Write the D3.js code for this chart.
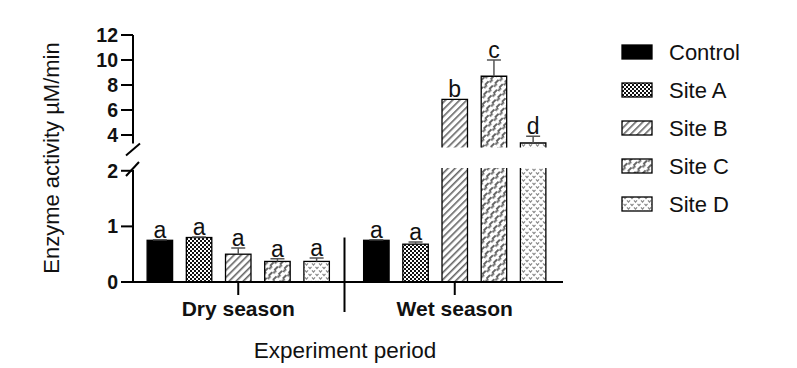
<!DOCTYPE html>
<html><head><meta charset="utf-8">
<script src="https://cdn.jsdelivr.net/npm/d3@7"></script>
<style>body{margin:0;background:#fff}svg{display:block}text{font-family:"Liberation Sans",Arial,sans-serif;fill:#111}</style>
</head><body><svg id="c" width="797" height="368"></svg>
<script>
const groups = ["Dry season", "Wet season"];
const series = ["Control", "Site A", "Site B", "Site C", "Site D"];
const dryValues = [0.75, 0.80, 0.50, 0.37, 0.37];
const dryErrors = [0.01, 0.01, 0.11, 0.05, 0.06];
const dryLetters = ["a", "a", "a", "a", "a"];
const wetValues = [0.75, 0.68, 6.85, 8.7, 3.36];
const wetErrors = [0.01, 0.04, 0.0, 1.3, 0.55];
const wetLetters = ["a", "a", "b", "c", "d"];
const lowerTicks = [0, 1, 2];
const upperTicks = [4, 6, 8, 10, 12];

const svg = d3.select("#c");
const defs = svg.append("defs");
// patterns
const pA = defs.append("pattern").attr("id","pA").attr("patternUnits","userSpaceOnUse").attr("width",4).attr("height",4);
pA.append("rect").attr("width",4).attr("height",4).attr("fill","#fff");
pA.append("rect").attr("width",2).attr("height",2).attr("fill","#111");
pA.append("rect").attr("x",2).attr("y",2).attr("width",2).attr("height",2).attr("fill","#111");
const pB = defs.append("pattern").attr("id","pB").attr("patternUnits","userSpaceOnUse").attr("width",5).attr("height",5).attr("patternTransform","rotate(45)");
pB.append("rect").attr("width",5).attr("height",5).attr("fill","#fff");
pB.append("rect").attr("width",1.6).attr("height",5).attr("fill","#666");
const pC = defs.append("pattern").attr("id","pC").attr("patternUnits","userSpaceOnUse").attr("width",6).attr("height",8).attr("patternTransform","rotate(45)");
pC.append("rect").attr("width",6).attr("height",8).attr("fill","#fff");
pC.append("rect").attr("width",2).attr("height",5).attr("fill","#666");
pC.append("rect").attr("x",1.5).attr("y",4).attr("width",2).attr("height",4).attr("fill","#666");
const pD = defs.append("pattern").attr("id","pD").attr("patternUnits","userSpaceOnUse").attr("width",7).attr("height",7);
pD.append("rect").attr("width",7).attr("height",7).attr("fill","#fff");
pD.append("path").attr("d","M0.5,0.8 L2,2.6 L3.5,0.8 M4,4.3 L5.5,6.1 L7,4.3 M-3,4.3 L-1.5,6.1 L0,4.3").attr("stroke","#888").attr("stroke-width",1.2).attr("fill","none");
const fills = ["#000", "url(#pA)", "url(#pB)", "url(#pC)", "url(#pD)"];

// scales
const yLow = d3.scaleLinear().domain([0, 2.05]).range([282, 168]);
const yUp = d3.scaleLinear().domain([3, 12]).range([147.5, 35]);
const x0 = d3.scaleBand().domain(groups).range([130, 563]);
const x1 = d3.scaleBand().domain(series).range([0, 194]).paddingInner(0.35).paddingOuter(0.15);
const axisX = 133;

const data = [];
groups.forEach((g, gi) => {
  const vals = gi === 0 ? dryValues : wetValues;
  const errs = gi === 0 ? dryErrors : wetErrors;
  const lets = gi === 0 ? dryLetters : wetLetters;
  series.forEach((s, si) => data.push({g, s, si, v: vals[si], e: errs[si], l: lets[si]}));
});
const yv = v => v <= 2.05 ? yLow(v) : yUp(v);
const bx = d => x0(d.g) + (x0.bandwidth() - 194) / 2 + x1(d.s);

const gBars = svg.append("g");
data.forEach(d => {
  const x = bx(d), w = x1.bandwidth();
  if (d.v <= 2.05) {
    gBars.append("rect").attr("x", x).attr("y", yLow(d.v)).attr("width", w).attr("height", yLow(0) - yLow(d.v))
      .attr("fill", fills[d.si]).attr("stroke", "#000").attr("stroke-width", 1.3);
  } else {
    gBars.append("rect").attr("x", x).attr("y", yLow(2.05)).attr("width", w).attr("height", yLow(0) - yLow(2.05))
      .attr("fill", fills[d.si]);
    gBars.append("path").attr("d", `M${x},${yLow(0)}V${yLow(2.05)}M${x+w},${yLow(0)}V${yLow(2.05)}`).attr("stroke","#000").attr("stroke-width",1.3);
    gBars.append("rect").attr("x", x).attr("y", yUp(d.v)).attr("width", w).attr("height", yUp(3) - yUp(d.v))
      .attr("fill", fills[d.si]);
    gBars.append("path").attr("d", `M${x},${yUp(3)}V${yUp(d.v)}H${x+w}V${yUp(3)}`).attr("stroke","#000").attr("stroke-width",1.3).attr("fill","none");
  }
  const cx = x + w / 2;
  const top = yv(d.v), et = yv(d.v + d.e);
  if (d.e > 0) {
    gBars.append("path").attr("d", `M${cx},${top}V${et}M${cx-7},${et}H${cx+7}`).attr("stroke","#555").attr("stroke-width",1.5).attr("fill","none");
  }
  svg.append("text").attr("x", cx).attr("y", et - 2).attr("text-anchor","middle").attr("font-size", 23).text(d.l);
});

// y axis
const ax = svg.append("g").attr("stroke","#000").attr("stroke-width",2).attr("fill","none");
ax.append("path").attr("d", `M${axisX},${yUp(12)}V${yUp(3)-4}`);
ax.append("path").attr("d", `M${axisX},${yLow(2.05)+2}V${yLow(0)}`);
ax.append("path").attr("d", `M${axisX-7},${yUp(3)+8}L${axisX+7},${yUp(3)-4}`);
ax.append("path").attr("d", `M${axisX-7},${yLow(2.05)+8}L${axisX+6},${yLow(2.05)-6}`);
upperTicks.forEach(t => ax.append("path").attr("d", `M${axisX-12},${yUp(t)}H${axisX}`));
lowerTicks.forEach(t => ax.append("path").attr("d", `M${axisX-12},${yLow(t)}H${axisX}`));
upperTicks.forEach(t => svg.append("text").attr("x", axisX-15).attr("y", yUp(t)).attr("dy","0.36em").attr("text-anchor","end").attr("font-size",19.5).attr("font-weight","bold").text(t));
lowerTicks.forEach(t => svg.append("text").attr("x", axisX-15).attr("y", yLow(t)).attr("dy","0.36em").attr("text-anchor","end").attr("font-size",19.5).attr("font-weight","bold").text(t));

// x axis
ax.append("path").attr("d", `M${axisX},${yLow(0)}H563`);
groups.forEach(g => ax.append("path").attr("d", `M${x0(g)+x0.bandwidth()/2},${yLow(0)}V${yLow(0)+13}`));
const divX = x0(groups[1]) - 2;
ax.append("path").attr("d", `M${divX},${yLow(0.8)}V${yLow(0)+30}`);
groups.forEach(g => svg.append("text").attr("x", x0(g)+x0.bandwidth()/2).attr("y", 316).attr("text-anchor","middle").attr("font-size",21).attr("font-weight","bold").text(g));

svg.append("text").attr("x", 345).attr("y", 358).attr("text-anchor","middle").attr("font-size",22.5).text("Experiment period");
svg.append("text").attr("transform","translate(59,158) rotate(-90)").attr("text-anchor","middle").attr("font-size",22).text("Enzyme activity µM/min");

// legend
const lg = svg.append("g");
series.forEach((s, i) => {
  const y = 45 + i * 38;
  lg.append("rect").attr("x", 622).attr("y", y).attr("width", 30).attr("height", 14).attr("fill", fills[i]).attr("stroke","#000").attr("stroke-width",1.3);
  lg.append("text").attr("x", 669).attr("y", y + 7).attr("dy","0.36em").attr("font-size",22).text(s);
});
</script></body></html>
